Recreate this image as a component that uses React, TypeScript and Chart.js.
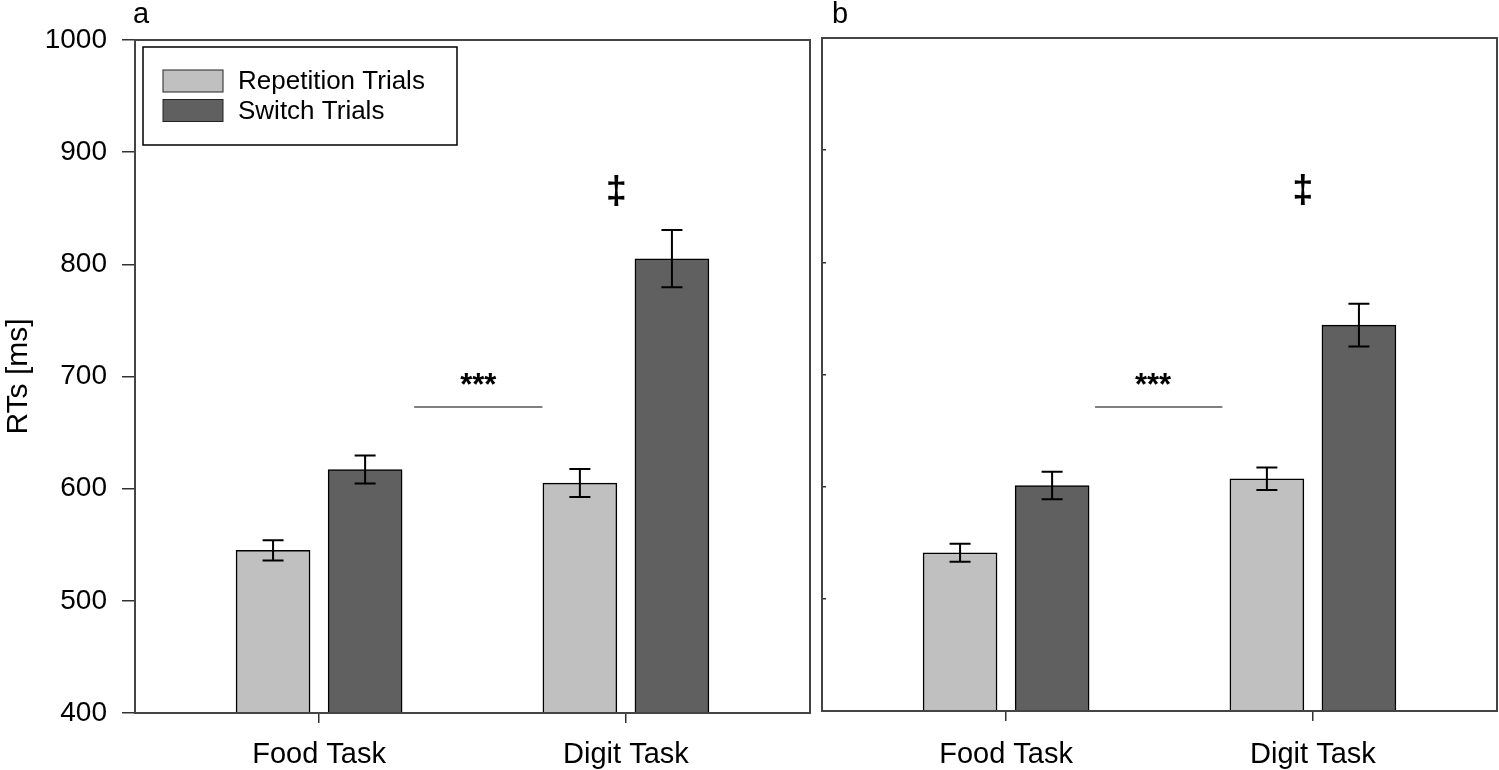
import { useEffect, useRef } from "react"
import { Chart, registerables } from "chart.js"

Chart.register(...registerables)

const FONT = '"Liberation Sans", Arial, Helvetica, sans-serif'

const categories = ["Food Task", "Digit Task"]
const seriesNames = ["Repetition Trials", "Switch Trials"]
const seriesColors = ["#c0c0c0", "#606060"]

// panel a
const repA = [545, 605]
const repAErr = [9, 12.5]
const switchA = [617, 805]
const switchAErr = [12.5, 25.5]

// panel b
const repB = [541, 607]
const repBErr = [8, 10]
const switchB = [601, 744]
const switchBErr = [12.3, 19]

const BAR_OFFSET = 0.15

const errorBars = {
  id: "errorBars",
  afterDatasetsDraw(chart: any) {
    const { ctx } = chart
    const y = chart.scales.y
    chart.data.datasets.forEach((ds: any, i: number) => {
      const meta = chart.getDatasetMeta(i)
      meta.data.forEach((bar: any, j: number) => {
        const v = ds.data[j].y
        const e = ds.errors[j]
        const y1 = y.getPixelForValue(v + e)
        const y2 = y.getPixelForValue(v - e)
        ctx.save()
        ctx.strokeStyle = "#000"
        ctx.lineWidth = 2
        ctx.beginPath()
        ctx.moveTo(bar.x, y1)
        ctx.lineTo(bar.x, y2)
        ctx.moveTo(bar.x - 10.5, y1)
        ctx.lineTo(bar.x + 10.5, y1)
        ctx.moveTo(bar.x - 10.5, y2)
        ctx.lineTo(bar.x + 10.5, y2)
        ctx.stroke()
        ctx.restore()
      })
    })
  },
}

const frame = {
  id: "frame",
  afterDraw(chart: any) {
    const { ctx, chartArea: a } = chart
    ctx.save()
    ctx.strokeStyle = "#444"
    ctx.lineWidth = 2
    ctx.strokeRect(a.left, a.top, a.right - a.left, a.bottom - a.top)
    ctx.restore()
  },
}

const marks = {
  id: "marks",
  afterDraw(chart: any, _args: any, opts: any) {
    const { ctx, chartArea: a } = chart
    const x = chart.scales.x
    const y = chart.scales.y
    ctx.save()
    // panel letter
    ctx.fillStyle = "#000"
    ctx.font = `29px ${FONT}`
    ctx.textAlign = "left"
    ctx.textBaseline = "alphabetic"
    ctx.fillText(opts.letter, a.left + opts.letterDx, 23)

    // significance line and stars
    const [lx1, lx2, ly] = opts.line
    ctx.strokeStyle = "#555"
    ctx.lineWidth = 1.5
    ctx.beginPath()
    ctx.moveTo(x.getPixelForValue(lx1), y.getPixelForValue(ly))
    ctx.lineTo(x.getPixelForValue(lx2), y.getPixelForValue(ly))
    ctx.stroke()

    ctx.font = `bold 31px ${FONT}`
    ctx.textAlign = "center"
    ctx.fillText("***", x.getPixelForValue(opts.stars[0]), y.getPixelForValue(opts.stars[1]))

    ctx.font = `bold 38px ${FONT}`
    ctx.textBaseline = "middle"
    ctx.fillText("\u2021", x.getPixelForValue(opts.dagger[0]), y.getPixelForValue(opts.dagger[1]))

    // legend box
    if (opts.legend) {
      const bx = a.left + 8
      const by = a.top + 7
      ctx.strokeStyle = "#000"
      ctx.lineWidth = 1.5
      ctx.strokeRect(bx, by, 314, 98)
      ctx.font = `26px ${FONT}`
      ctx.textAlign = "left"
      ctx.textBaseline = "middle"
      chart.data.datasets.forEach((ds: any, i: number) => {
        const sy = by + 23 + i * 29.5
        ctx.fillStyle = ds.backgroundColor
        ctx.fillRect(bx + 20, sy, 60, 22)
        ctx.strokeStyle = "#222"
        ctx.lineWidth = 1
        ctx.strokeRect(bx + 20, sy, 60, 22)
        ctx.fillStyle = "#000"
        ctx.fillText(ds.label, bx + 95, sy + 12)
      })
    }
    ctx.restore()
  },
}

function makeDataset(i: number, values: number[], errors: number[], offset: number) {
  return {
    label: seriesNames[i],
    data: values.map((v, j) => ({ x: j + 1 + offset, y: v })),
    errors,
    backgroundColor: seriesColors[i],
    borderColor: "#000",
    borderWidth: 1.5,
    borderSkipped: "bottom",
    grouped: false,
    barThickness: 74,
  }
}

function Panel(props: {
  left: number
  width: number
  first: boolean
  rep: number[]
  repErr: number[]
  sw: number[]
  swErr: number[]
  marks: any
}) {
  const canvasRef = useRef<HTMLCanvasElement>(null)

  useEffect(() => {
    const ctx = canvasRef.current?.getContext("2d")
    if (!ctx) return
    const first = props.first
    const chart = new Chart(ctx, {
      type: "bar",
      data: {
        datasets: [
          makeDataset(0, props.rep, props.repErr, -BAR_OFFSET),
          makeDataset(1, props.sw, props.swErr, BAR_OFFSET),
        ] as any,
      },
      options: {
        animation: false,
        responsive: true,
        maintainAspectRatio: false,
        layout: {
          padding: first ? { left: 0, right: 5, top: 40, bottom: 0 } : { left: 0, right: 2, top: 38, bottom: 0 },
        },
        plugins: {
          legend: { display: false },
          tooltip: { enabled: false },
          marks: props.marks,
        } as any,
        scales: {
          x: {
            type: "linear",
            min: 0.4,
            max: 2.6,
            offset: false,
            afterBuildTicks: (s: any) => {
              s.ticks = categories.map((_, i) => ({ value: i + 1 }))
            },
            afterFit: (s: any) => {
              s.height = first ? 57 : 59
            },
            ticks: {
              callback: (v: any) => categories[Math.round(Number(v)) - 1],
              font: { family: FONT, size: 29 },
              color: "#000",
              padding: first ? 15 : 17,
              maxRotation: 0,
              autoSkip: false,
            },
            grid: {
              offset: false,
              drawOnChartArea: false,
              drawTicks: true,
              tickLength: 10,
              color: "#333",
              lineWidth: 1.5,
            },
            border: { display: false },
          },
          y: {
            min: 400,
            max: 1000,
            afterFit: (s: any) => {
              s.width = first ? 135 : 10
            },
            ticks: {
              stepSize: 100,
              display: first,
              callback: (v: any) => String(v),
              font: { family: FONT, size: 28 },
              color: "#000",
              padding: 15,
            },
            grid: {
              drawOnChartArea: false,
              drawTicks: true,
              tickLength: first ? 13 : -4,
              color: "#333",
              lineWidth: 1.5,
            },
            border: { display: false },
            title: {
              display: first,
              text: "RTs [ms]",
              font: { family: FONT, size: 30 },
              color: "#000",
              padding: { top: 1, bottom: 0 },
            },
          },
        },
      } as any,
      plugins: [errorBars, frame, marks],
    })
    return () => {
      chart.destroy()
    }
  }, [])

  return (
    <div style={{ position: "absolute", left: props.left, top: 0, width: props.width, height: 770 }}>
      <canvas ref={canvasRef}></canvas>
    </div>
  )
}

export default function App() {
  useEffect(() => {
    document.body.style.margin = "0"
  }, [])

  return (
    <div style={{ position: "relative", width: 1499, height: 770, background: "#fff", overflow: "hidden" }}>
      <Panel
        left={0}
        width={815}
        first={true}
        rep={repA}
        repErr={repAErr}
        sw={switchA}
        swErr={switchAErr}
        marks={{
          letter: "a",
          letterDx: -2,
          legend: true,
          line: [1.31, 1.728, 672.8],
          stars: [1.519, 683.5],
          dagger: [1.969, 864],
        }}
      />
      <Panel
        left={812}
        width={687}
        first={false}
        rep={repB}
        repErr={repBErr}
        sw={switchB}
        swErr={switchBErr}
        marks={{
          letter: "b",
          letterDx: 10,
          legend: false,
          line: [1.29, 1.705, 671],
          stars: [1.479, 681.4],
          dagger: [1.967, 863],
        }}
      />
    </div>
  )
}
